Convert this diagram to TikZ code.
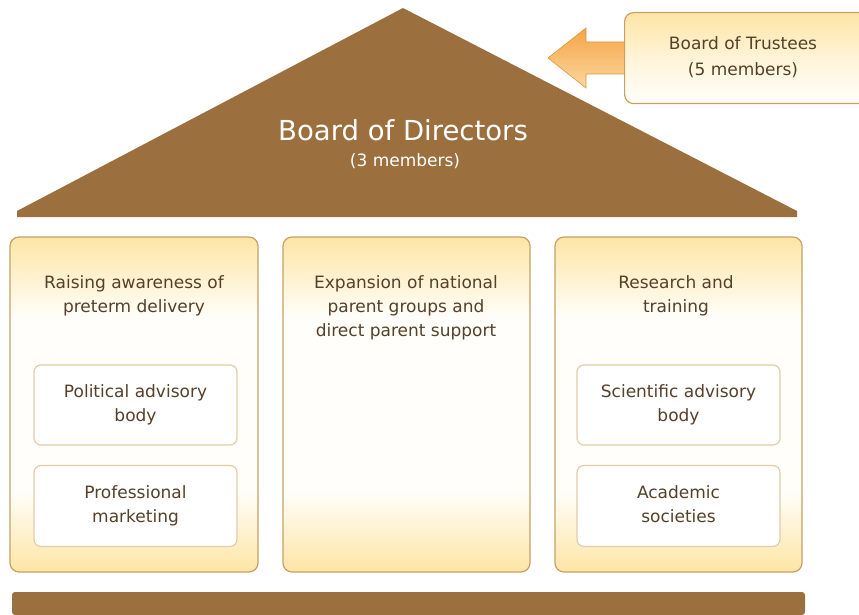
\documentclass[tikz,border=0pt]{standalone}
\usepackage{fontspec}
\setmainfont{DejaVu Sans}
\definecolor{roof}{RGB}{156,112,62}
\definecolor{txt}{RGB}{85,64,42}
\definecolor{edge}{RGB}{200,160,100}
\definecolor{pale}{RGB}{253,229,165}
\definecolor{cream}{RGB}{255,254,250}
\definecolor{inedge}{RGB}{225,205,170}
\definecolor{orng}{RGB}{245,165,70}
\definecolor{lorng}{RGB}{252,215,160}
\pgfdeclareverticalshading{colshade}{100bp}{color(0bp)=(pale); color(25bp)=(pale); color(37bp)=(cream); color(63bp)=(cream); color(75bp)=(pale); color(100bp)=(pale)}
\pgfdeclareverticalshading{trshade}{100bp}{color(0bp)=(cream); color(25bp)=(cream); color(50bp)=(cream!60!pale); color(75bp)=(pale); color(100bp)=(pale)}
\tikzset{
  colbox/.style={draw=edge, line width=1.2pt, rounded corners=9pt, shading=colshade},
  inbox/.style={draw=inedge, line width=1.2pt, fill=white, rounded corners=7pt},
  lbl/.style={text=txt, align=center, font=\fontsize{17}{24}\selectfont},
}
\begin{document}
\begin{tikzpicture}[x=1pt,y=-1pt]
\useasboundingbox (0,0) rectangle (859,615);
% roof
\fill[roof] (17,211) -- (403,8) -- (797,211) -- (797,217) -- (17,217) -- cycle;
\node[text=white, font=\fontsize{27.5}{30}\selectfont] (bod) at (403,130) {Board of Directors};
\node[text=white, font=\fontsize{17}{19}\selectfont] (bodm) at (405,161) {(3 members)};
% arrow
\shade[top color=orng, bottom color=lorng, draw=orng!90!black, line width=0.6pt]
  (548,58) -- (586,28) -- (586,42) -- (634,42) -- (634,74) -- (586,74) -- (586,88) -- cycle;
% trustees
\node[draw=edge, line width=1.2pt, rounded corners=9pt, shading=trshade, minimum width=250pt, minimum height=91pt, anchor=north west, inner sep=0pt] (bot) at (624,12) {};
\node[lbl, font=\fontsize{17}{26}\selectfont] (bott) at (743,57) {Board of Trustees\strut\\(5 members)\strut};
% columns
\shade[colbox] (10,237) rectangle (258,572);
\node[lbl] (c1) at (134,296) {Raising awareness of\strut\\preterm delivery\strut};
\shade[colbox] (283,237) rectangle (530,572);
\node[lbl] (c2) at (406,308) {Expansion of national\strut\\parent groups and\strut\\direct parent support\strut};
\shade[colbox] (555,237) rectangle (802,572);
\node[lbl] (c3) at (676,296) {Research and\strut\\training\strut};
% inner boxes
\node[inbox, minimum width=203pt, minimum height=80pt, lbl] (p1) at (135.5,405) {Political advisory\strut\\body\strut};
\node[inbox, minimum width=203pt, minimum height=81pt, lbl] (p2) at (135.5,506) {Professional\strut\\marketing\strut};
\node[inbox, minimum width=203pt, minimum height=80pt, lbl] (s1) at (678.5,405) {Scientific advisory\strut\\body\strut};
\node[inbox, minimum width=203pt, minimum height=81pt, lbl] (s2) at (678.5,506) {Academic\strut\\societies\strut};
% base
\fill[roof, rounded corners=3pt] (12,615) -- (12,592) -- (805,592) -- (805,615) -- cycle;
\end{tikzpicture}
\end{document}
